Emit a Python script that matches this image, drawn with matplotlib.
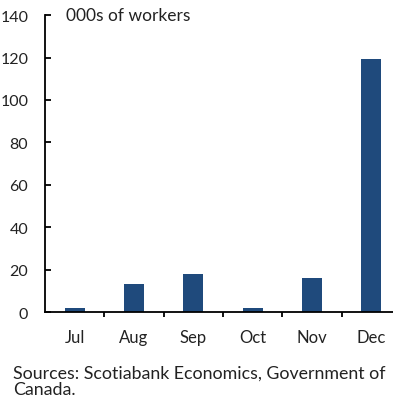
import matplotlib
matplotlib.use("Agg")
import matplotlib.pyplot as plt
import numpy as np

plt.rcParams["font.family"] = ["Lato", "DejaVu Sans"]

months = ["Jul", "Aug", "Sep", "Oct", "Nov", "Dec"]
workers = [2.0, 13.5, 18.0, 2.0, 16.0, 119.5]   # 000s of workers

BAR_COLOR = "#1F4A7C"
TEXT_COLOR = "#222222"

fig = plt.figure(figsize=(3.93, 4.02), dpi=100)
ax = fig.add_axes([0.1145, 0.221, 0.906, 0.739])

x = np.arange(len(months))
ax.bar(x, workers, width=0.34, color=BAR_COLOR, zorder=2)

ax.set_xlim(-0.5, len(months) - 0.5)
ax.set_ylim(0, 140)
ax.set_yticks(range(0, 141, 20))

for side in ("top", "right"):
    ax.spines[side].set_visible(False)
for side in ("left", "bottom"):
    ax.spines[side].set_linewidth(1.3)
    ax.spines[side].set_color("black")

ax.tick_params(axis="y", direction="in", length=4, width=1.3, pad=12,
               labelsize=11.5, labelcolor=TEXT_COLOR)
ax.set_xticks(x)
ax.set_xticklabels(months)
ax.tick_params(axis="x", which="major", length=0, pad=12,
               labelsize=12, labelcolor=TEXT_COLOR)
ax.set_xticks(np.arange(0.5, len(months) - 0.5, 1), minor=True)
ax.tick_params(axis="x", which="minor", direction="out", length=3.5,
               width=1.3)

ax.text(0.06, 1.0, "000s of workers", transform=ax.transAxes,
        ha="left", va="center", fontsize=12.5, color=TEXT_COLOR)

fig.text(0.033, 0.05, "Sources: Scotiabank Economics, Government of\nCanada.",
         ha="left", va="center", fontsize=12.8, color=TEXT_COLOR,
         linespacing=1.0)

fig.savefig("out.png", dpi=100)
